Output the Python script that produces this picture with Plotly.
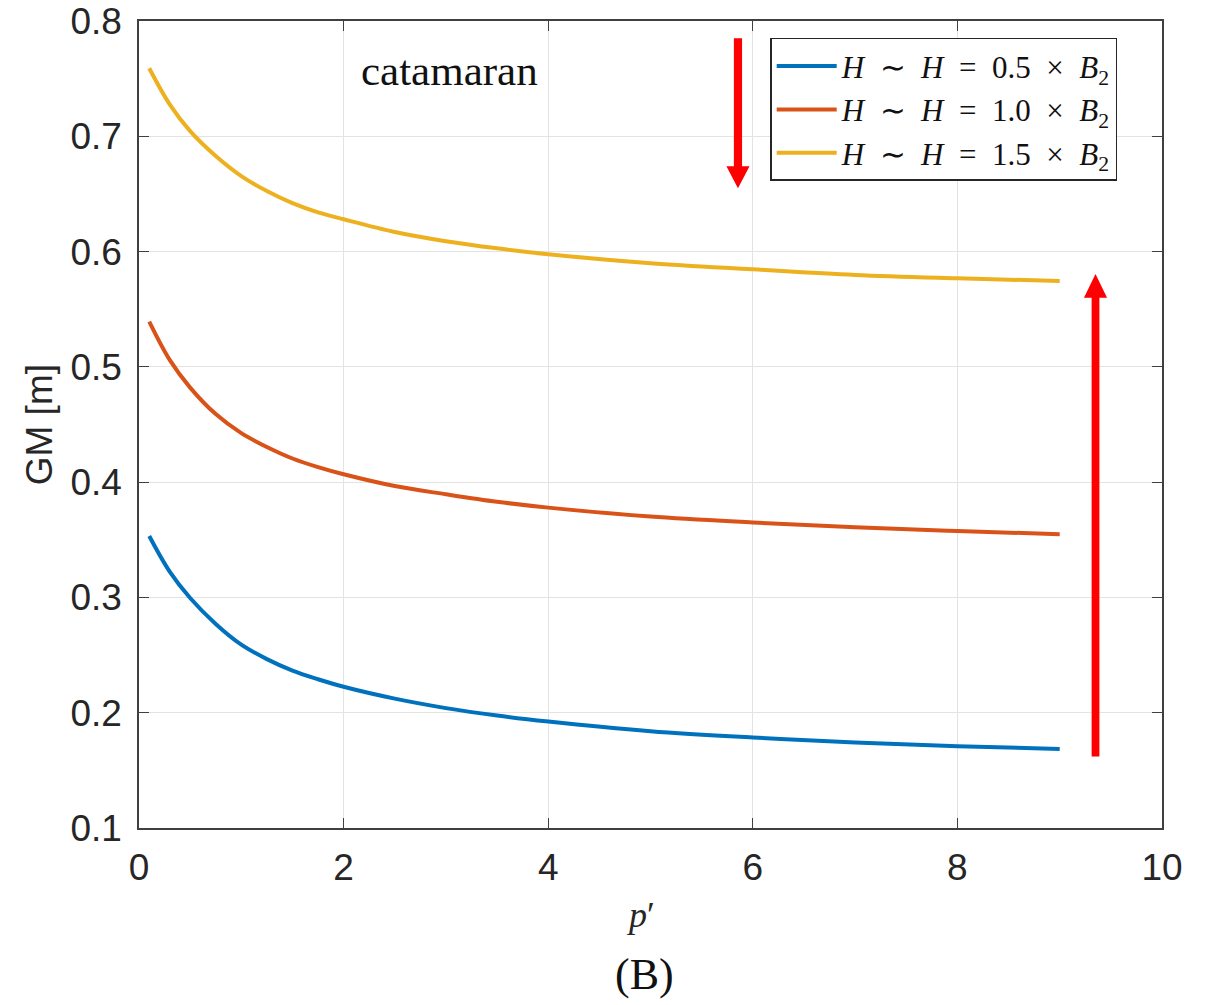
import plotly.graph_objects as go

# Values
p_prime = [0.1, 0.3, 0.5, 0.75, 1.0, 1.25, 1.5, 1.75, 2.0, 2.5, 3.0, 3.5, 4.0, 5.0, 6.0, 7.0, 8.0, 9.0]
gm_05 = [0.3533, 0.3224, 0.2995, 0.2770, 0.2590, 0.2465, 0.2365, 0.2290, 0.2225, 0.2122, 0.2040, 0.1975, 0.1923, 0.1840, 0.1785, 0.1742, 0.1710, 0.1686]
gm_10 = [0.5392, 0.5060, 0.4820, 0.4590, 0.4425, 0.4305, 0.4205, 0.4130, 0.4068, 0.3966, 0.3895, 0.3830, 0.3779, 0.3701, 0.3650, 0.3608, 0.3576, 0.3548]
gm_15 = [0.7590, 0.7277, 0.7045, 0.6829, 0.6655, 0.6525, 0.6420, 0.6340, 0.6280, 0.6170, 0.6090, 0.6028, 0.5977, 0.5899, 0.5846, 0.5797, 0.5768, 0.5745]

SP = "\u2002"
series_names = [
    f"<i>H</i>{SP}∼{SP}<i>H</i>{SP}={SP}0.5{SP}×{SP}<i>B</i><sub>2</sub>",
    f"<i>H</i>{SP}∼{SP}<i>H</i>{SP}={SP}1.0{SP}×{SP}<i>B</i><sub>2</sub>",
    f"<i>H</i>{SP}∼{SP}<i>H</i>{SP}={SP}1.5{SP}×{SP}<i>B</i><sub>2</sub>",
]
series_colors = ["#0072BD", "#D95319", "#EDB120"]
x_ticks = [0, 2, 4, 6, 8, 10]
y_ticks = [0.1, 0.2, 0.3, 0.4, 0.5, 0.6, 0.7, 0.8]

fig = go.Figure()
for name, ys, col in zip(series_names, [gm_05, gm_10, gm_15], series_colors):
    fig.add_trace(go.Scatter(x=p_prime, y=ys, mode="lines", name=name,
                             line=dict(color=col, width=4, shape="spline", smoothing=1.0)))

axis_common = dict(showline=True, linecolor="#404040", linewidth=1.5, mirror="ticks",
                   ticks="inside", ticklen=10, tickwidth=1.2, tickcolor="#404040",
                   showgrid=True, gridcolor="#e3e3e3", gridwidth=1, zeroline=False,
                   automargin=False,
                   tickfont=dict(family="Liberation Sans, Arial", size=37, color="#262626"))

fig.update_xaxes(range=[0, 10], tickvals=x_ticks, ticktext=[str(v) for v in x_ticks],
                 ticklabelstandoff=6, **axis_common)
fig.update_yaxes(range=[0.1, 0.8], tickvals=y_ticks, ticktext=[f"{v:.1f}" for v in y_ticks],
                 ticklabelstandoff=8, **axis_common)

# Red arrows (decorations)
def arrow_path(xc, y_tail, y_base, y_tip, hw_shaft, hw_head):
    return (f"M {xc-hw_shaft} {y_tail} L {xc+hw_shaft} {y_tail} L {xc+hw_shaft} {y_base} "
            f"L {xc+hw_head} {y_base} L {xc} {y_tip} L {xc-hw_head} {y_base} L {xc-hw_shaft} {y_base} Z")

fig.add_shape(type="path", xref="x", yref="y", path=arrow_path(5.855, 0.785, 0.674, 0.655, 0.04, 0.113),
              fillcolor="#ff0000", line=dict(width=0), layer="above")
fig.add_shape(type="path", xref="x", yref="y", path=arrow_path(9.35, 0.162, 0.560, 0.5806, 0.038, 0.113),
              fillcolor="#ff0000", line=dict(width=0), layer="above")

fig.add_annotation(text="catamaran", xref="paper", yref="paper", x=0.304, y=0.939,
                   xanchor="center", yanchor="middle",
                   showarrow=False, font=dict(family="Liberation Serif, Times New Roman", size=43, color="#111111"))
fig.add_annotation(text="<i>p</i>′", xref="paper", yref="paper", x=0.490, y=-0.108,
                   xanchor="center", yanchor="middle",
                   showarrow=False, font=dict(family="Liberation Serif, Times New Roman", size=36, color="#262626"))
fig.add_annotation(text="(B)", xref="paper", yref="paper", x=0.494, y=-0.182,
                   xanchor="center", yanchor="middle",
                   showarrow=False, font=dict(family="Liberation Serif, Times New Roman", size=44, color="#111111"))
fig.add_annotation(text="GM [m]", xref="paper", yref="paper", x=-0.097, y=0.5, textangle=-90,
                   xanchor="center", yanchor="middle",
                   showarrow=False, font=dict(family="Liberation Sans, Arial", size=37, color="#262626"))

fig.update_layout(
    width=1210, height=1005,
    margin=dict(l=139, r=48, t=21, b=177),
    paper_bgcolor="white", plot_bgcolor="white",
    showlegend=True,
    legend=dict(x=0.617, y=0.979, xanchor="left", yanchor="top",
                bgcolor="white", bordercolor="#262626", borderwidth=1.5,
                font=dict(family="Liberation Serif, Times New Roman", size=31, color="#111111"),
                tracegroupgap=0, itemwidth=60),
)

fig.write_html("out.html")
